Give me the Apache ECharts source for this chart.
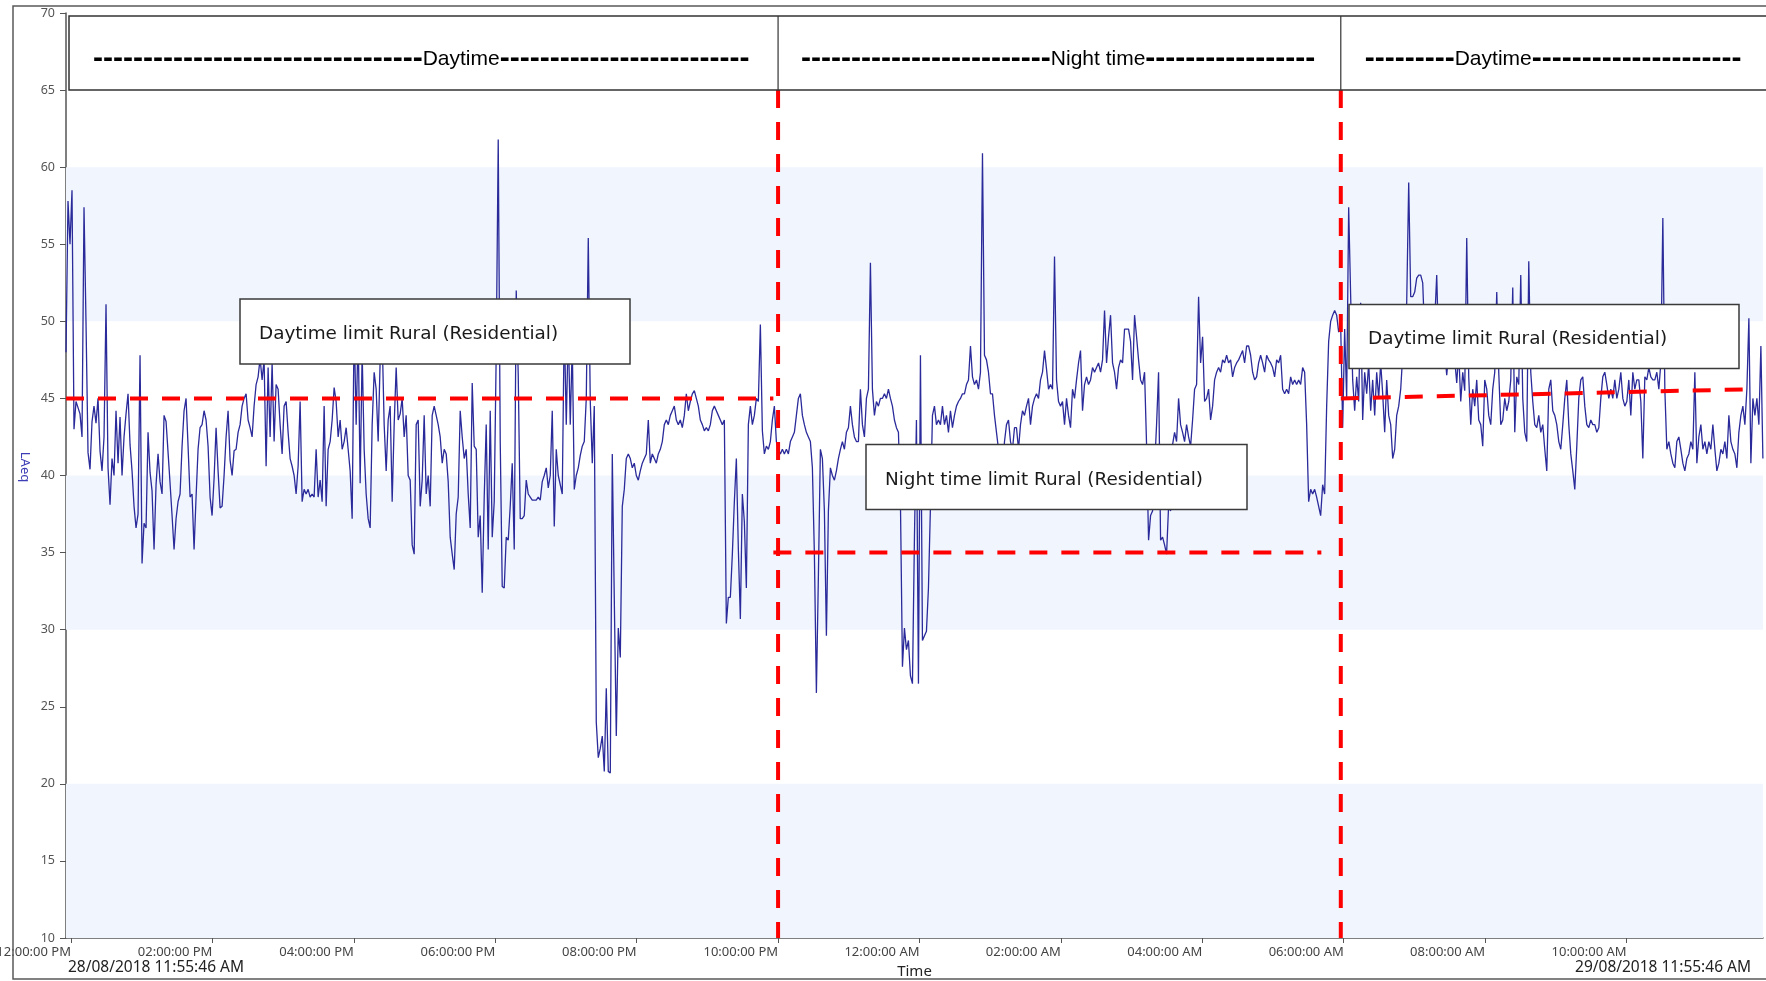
<!DOCTYPE html>
<html><head><meta charset="utf-8">
<script src="https://cdn.jsdelivr.net/npm/echarts@6/dist/echarts.min.js"></script>
<style>html,body{margin:0;padding:0;background:#fff;}#c{width:1766px;height:981px;}</style>
</head><body><div id="c"></div>
<script>
// ---------------- DATA ----------------
const startTime = '2018-08-28T11:55:46';
const endTime = '2018-08-29T11:55:46';
const logIntervalSec = 101.88;

const laeq = [
48.0,57.8,55.0,58.5,43.0,44.8,44.4,44.0,42.5,57.4,
49.9,41.5,40.4,43.5,44.5,43.4,45.0,41.6,40.3,42.5,
51.1,40.5,38.1,41.1,40.0,44.2,40.8,43.8,40.0,42.5,
44.0,45.3,42.0,40.3,38.0,36.6,37.5,47.8,34.3,36.9,
36.6,42.8,40.2,39.0,35.2,39.4,41.4,39.6,38.8,43.9,
43.5,41.5,39.5,37.4,35.2,37.2,38.3,38.8,41.9,44.2,
45.0,41.9,38.6,38.8,35.2,38.6,41.7,43.1,43.3,44.2,
43.6,41.9,38.6,37.4,39.8,43.1,40.3,37.9,38.0,40.0,
42.5,44.2,41.0,40.0,41.6,41.7,42.8,43.3,44.5,45.0,
45.3,43.6,43.1,42.5,44.5,45.9,46.4,47.6,46.2,47.5,
40.6,47.0,42.5,47.3,42.2,45.9,45.6,43.3,41.4,44.5,
44.8,42.8,41.1,40.6,40.0,38.8,40.6,44.8,38.3,39.1,
38.8,39.1,38.6,38.8,38.6,41.7,38.6,39.7,38.3,44.5,
38.0,41.7,42.2,43.6,45.7,44.8,42.5,43.6,41.7,42.2,
43.1,41.7,40.3,37.2,50.0,43.3,49.5,39.5,48.0,41.7,
38.8,37.2,36.6,43.3,46.7,45.6,42.2,47.5,49.0,43.3,
40.3,43.6,44.5,38.3,43.3,47.0,43.6,
44.0,45.0,42.5,43.9,40.0,39.7,35.5,34.9,43.3,43.6,
38.0,39.7,43.9,38.8,40.0,38.0,43.9,44.5,43.9,43.3,
42.5,40.8,41.7,41.4,39.6,36.0,34.9,33.9,37.5,38.6,
44.2,42.5,41.1,41.7,38.8,36.6,46.0,41.9,41.7,36.0,
37.4,32.4,38.6,43.3,35.2,44.2,36.0,38.3,48.0,61.8,
42.2,32.8,32.7,36.0,35.8,38.0,40.8,35.2,52.0,46.5,
37.2,37.2,37.4,39.7,38.8,38.6,38.4,38.4,38.4,38.6,
38.4,39.6,40.0,40.5,39.2,40.0,44.2,36.7,41.7,40.0,
39.4,38.8,50.0,43.3,49.5,43.3,48.5,39.1,40.0,40.5,
41.3,41.9,42.2,45.0,55.4,44.8,40.8,44.5,24.0,21.7,
22.3,23.1,20.8,26.2,20.8,20.7,41.4,32.0,23.1,30.1,
28.2,38.0,39.1,41.1,41.4,41.1,40.5,40.8,40.0,39.7,
40.3,40.8,41.1,41.4,43.6,40.8,41.4,41.1,40.8,41.4,
41.7,42.2,43.3,43.6,43.3,43.9,44.2,44.5,43.6,43.3,
43.6,43.1,43.9,45.3,44.2,44.8,45.3,45.5,45.0,44.5,
43.6,43.3,42.9,43.1,42.9,43.3,44.2,44.5,44.2,43.9,
43.6,43.3,43.6,30.4,32.1,32.1,34.9,38.3,41.1,35.2,
30.7,38.8,37.0,32.7,43.3,44.5,43.3,43.9,45.0,44.8,
49.8,42.9,41.4,41.9,41.7,42.2,43.6,44.5,42.2,41.7,
41.4,41.7,41.4,41.7,41.4,42.2,42.5,42.8,43.9,45.0,
45.3,43.9,43.3,42.8,42.5,42.2,40.5,34.9,25.9,33.5,
41.7,41.1,37.7,29.6,37.7,40.5,40.0,39.7,40.3,41.1,
41.7,42.2,41.7,42.8,43.1,44.5,43.3,42.5,42.2,42.2,
45.6,43.3,42.5,45.0,45.6,53.8,45.6,43.9,44.8,44.5,
45.0,45.0,45.3,45.0,45.6,45.0,44.5,43.6,43.1,42.8,
38.3,27.6,30.1,28.7,29.3,27.0,26.5,36.0,43.6,26.5,
47.8,29.3,29.6,29.9,32.7,38.0,43.9,44.5,43.3,43.6,
43.3,44.5,43.3,43.9,42.8,44.2,43.1,43.9,44.5,44.8,
45.0,45.3,45.3,45.9,46.2,48.4,46.4,45.9,46.2,45.6,
46.7,60.9,47.8,47.5,46.7,45.3,45.3,43.9,42.8,41.7,
41.9,40.5,42.2,43.3,43.6,42.2,41.7,43.1,43.1,41.7,
43.3,44.2,43.9,44.5,45.0,43.3,44.5,45.0,45.3,45.0,
46.2,46.7,48.1,46.9,45.6,45.9,45.6,54.2,46.2,44.8,
44.5,44.8,43.3,45.0,43.9,43.1,45.6,45.0,46.2,47.3,
48.1,44.2,45.9,46.4,45.9,46.2,47.0,46.7,47.0,47.3,
46.7,47.5,50.7,47.3,49.0,50.4,47.3,46.7,45.6,47.0,
47.5,47.3,49.5,49.5,49.5,48.7,46.2,50.4,49.0,47.5,
46.2,45.9,46.7,42.0,35.8,37.4,37.7,40.5,43.3,46.7,
35.8,36.0,35.5,34.9,38.0,37.7,42.0,42.8,42.2,45.0,
43.3,42.8,42.2,43.3,42.5,41.9,43.6,45.6,45.9,51.6,
47.3,49.0,44.8,45.0,45.6,43.6,44.5,46.2,46.7,47.0,
46.7,47.5,47.3,47.8,47.3,47.5,46.4,47.0,47.3,47.5,
47.8,48.1,47.3,48.4,48.4,47.8,46.7,46.2,46.4,47.3,
47.8,47.3,46.7,47.8,47.5,47.3,47.0,46.4,47.5,47.3,
47.8,45.6,45.3,45.6,45.3,46.4,45.9,46.2,45.9,46.2,
45.9,47.0,46.7,43.3,38.3,39.1,38.8,39.1,38.6,38.0,
37.4,39.4,38.8,44.5,48.7,50.0,50.4,50.7,50.4,49.3,
49.8,43.1,49.5,45.0,57.4,51.6,46.2,44.2,46.4,44.8,
51.2,43.6,46.7,45.3,47.3,44.2,46.2,43.9,46.7,45.0,
47.3,45.3,42.8,46.2,43.9,43.3,41.1,41.7,43.9,44.5,
45.6,47.8,49.8,51.2,59.0,51.6,51.6,51.9,52.8,53.0,
53.0,52.5,49.0,50.5,47.5,48.5,47.0,50.0,53.0,48.0,
47.5,49.0,48.0,46.5,48.0,47.0,49.0,47.5,46.0,48.0,
44.8,46.7,45.5,55.4,46.4,43.3,45.6,44.5,46.2,43.6,
43.3,41.9,46.2,45.6,43.9,43.3,45.6,46.7,51.9,46.7,
43.3,43.6,45.0,44.2,44.8,46.2,52.2,42.8,46.4,45.9,
53.0,45.0,42.8,42.2,53.9,46.7,44.8,43.3,43.1,43.9,
42.8,43.3,41.7,40.3,45.6,46.2,44.2,43.9,43.3,42.2,
41.7,43.3,45.0,46.2,43.3,41.4,40.3,39.1,41.9,45.0,
46.2,46.4,44.5,43.3,43.1,43.6,43.3,43.3,42.8,43.1,
45.0,46.4,46.7,45.9,45.0,45.6,45.0,46.2,45.0,45.6,
46.7,45.0,44.5,44.8,46.2,43.9,46.7,45.6,46.2,46.2,
44.8,41.1,46.4,46.2,47.0,46.4,46.2,46.2,46.7,45.6,
47.3,56.7,45.6,41.7,42.2,41.4,40.8,40.5,42.2,42.5,
41.7,40.8,40.3,41.1,41.4,42.2,41.7,46.7,40.8,42.5,
43.3,41.7,42.2,41.4,42.2,41.7,43.3,41.7,40.3,40.8,
41.7,41.4,42.2,41.1,43.9,42.2,41.7,41.4,40.5,42.8,
43.9,44.5,43.3,45.6,50.2,40.8,45.0,43.9,45.0,43.3,
48.4,41.1
];

const xTickTimes = [
'2018-08-28T12:00:00','2018-08-28T14:00:00','2018-08-28T16:00:00','2018-08-28T18:00:00',
'2018-08-28T20:00:00','2018-08-28T22:00:00','2018-08-29T00:00:00','2018-08-29T02:00:00',
'2018-08-29T04:00:00','2018-08-29T06:00:00','2018-08-29T08:00:00','2018-08-29T10:00:00'
];
const yMin = 10, yMax = 70, yStep = 5;
const bandRanges = [[10, 20], [30, 40], [50, 60]];

const periodBounds = ['2018-08-28T22:00:00', '2018-08-29T05:57:30'];
const periodNames = ['Daytime', 'Night time', 'Daytime'];
const periodDashes = [[33, 25], [25, 17], [9, 21]];
const periodTop = 70, periodBottom = 65;

const dayLimit1 = [['2018-08-28T11:55:46', 45.0], ['2018-08-28T21:56:00', 45.0]];
const nightLimit = [['2018-08-28T21:56:00', 35.0], ['2018-08-29T05:41:00', 35.0]];
const dayLimit2 = [['2018-08-29T05:57:30', 45.0], ['2018-08-29T11:49:00', 45.6]];

const limitLabels = ['Daytime limit Rural (Residential)', 'Night time limit Rural (Residential)', 'Daytime limit Rural (Residential)'];
const startLabel = '28/08/2018 11:55:46 AM';
const endLabel = '29/08/2018 11:55:46 AM';
const xName = 'Time';
const yName = 'LAeq';

// ---------------- HELPERS ----------------
function toMs(s) {
  const [d, t] = s.split('T');
  const [Y, M, D] = d.split('-').map(Number);
  const [h, m, sec] = t.split(':').map(Number);
  return Date.UTC(Y, M - 1, D, h, m, sec);
}
function pad(n) { return (n < 10 ? '0' : '') + n; }
function fmtTime(ms) {
  const d = new Date(ms);
  let h = d.getUTCHours();
  const ap = h >= 12 ? 'PM' : 'AM';
  h = h % 12; if (h === 0) h = 12;
  return pad(h) + ':' + pad(d.getUTCMinutes()) + ':' + pad(d.getUTCSeconds()) + ' ' + ap;
}

const t0 = toMs(startTime), t1 = toMs(endTime);
const lineData = laeq.map((v, i) => [t0 + i * logIntervalSec * 1000, v]);
const tickMs = xTickTimes.map(toMs);
const conv = arr => arr.map(p => [toMs(p[0]), p[1]]);
const boundMs = periodBounds.map(toMs);

const RED = '#ff0000';
const redStyle = { color: RED, width: 4, type: [18, 14] };

const chart = echarts.init(document.getElementById('c'), null, { renderer: 'canvas' });

const option = {
  animation: false,
  backgroundColor: '#ffffff',
  grid: { left: 66, right: 3, top: 13, bottom: 43, containLabel: false, outerBoundsMode: 'none' },
  xAxis: {
    type: 'value', min: t0, max: t1,
    name: xName, nameLocation: 'middle', nameGap: 21,
    nameTextStyle: { fontFamily: 'Noto Sans', fontSize: 15, color: '#222' },
    axisLine: { show: true, onZero: false, lineStyle: { color: '#555', width: 1.5 } },
    axisTick: { show: true, length: 5, lineStyle: { color: '#555' }, customValues: tickMs },
    axisLabel: { customValues: tickMs, formatter: fmtTime, align: 'right', fontSize: 13,
      color: '#444', margin: 8, fontFamily: 'Noto Sans', hideOverlap: false },
    splitLine: { show: false }
  },
  yAxis: {
    type: 'value', min: yMin, max: yMax, interval: yStep,
    axisLine: { show: true, lineStyle: { color: '#555', width: 1.5 } },
    axisTick: { show: true, length: 6, lineStyle: { color: '#555' } },
    axisLabel: { fontSize: 12.5, color: '#555', margin: 11, fontFamily: 'Noto Sans' },
    splitLine: { show: false }
  },
  series: [
    {
      type: 'line', data: [], z: 1, silent: true,
      markArea: { silent: true, itemStyle: { color: '#f1f6fe' },
        data: bandRanges.map(r => [{ yAxis: r[0] }, { yAxis: r[1] }]) }
    },
    {
      type: 'line', data: lineData, z: 3, showSymbol: false, symbol: 'none',
      lineStyle: { color: '#2a2a9a', width: 1.3 }
    },
    { type: 'line', data: conv(dayLimit1), z: 4, symbol: 'none', lineStyle: redStyle },
    { type: 'line', data: conv(nightLimit), z: 4, symbol: 'none', lineStyle: redStyle },
    { type: 'line', data: conv(dayLimit2), z: 4, symbol: 'none', lineStyle: redStyle },
    ...boundMs.map(b => ({ type: 'line', data: [[b, periodBottom], [b, yMin]], z: 4,
      symbol: 'none', lineStyle: redStyle }))
  ]
};
chart.setOption(option);

// ---------------- DECORATIONS ----------------
const P = (t, v) => chart.convertToPixel({ gridIndex: 0 }, [t, v]);
const xa = P(t0, yMax)[0];
const yTop = P(t0, periodTop)[1] + 3;
const yBot = P(t0, periodBottom)[1];
const xDiv = boundMs.map(b => P(b, periodBottom)[0]);
const segStarts = [xa + 27, xDiv[0] + 23, xDiv[1] + 24];
const textY = yTop + (yBot - yTop) / 2 + 6;

const dashStyle = { fontFamily: 'Liberation Sans', fontWeight: 'bold', fontSize: 30, fill: '#000' };
const wordStyle = { fontFamily: 'Liberation Sans', fontSize: 21, fill: '#000' };

const graphics = [];
graphics.push({ type: 'rect', z: 40, shape: { x: 13, y: 6, width: 1800, height: 973 },
  style: { fill: 'none', stroke: '#5a5a5a', lineWidth: 1.5 } });
graphics.push({ type: 'rect', z: 40, shape: { x: xa + 3, y: yTop, width: 1900, height: yBot - yTop },
  style: { fill: '#fff', stroke: '#333', lineWidth: 1.5 } });
xDiv.forEach(x => graphics.push({ type: 'line', z: 41,
  shape: { x1: x, y1: yTop, x2: x, y2: yBot }, style: { stroke: '#333', lineWidth: 1.2 } }));
periodNames.forEach((nm, k) => {
  const [a, b] = periodDashes[k];
  graphics.push({ type: 'text', z: 42, x: segStarts[k], y: textY,
    style: { text: '{d|' + '-'.repeat(a) + '}{w|' + nm + '}{d|' + '-'.repeat(b) + '}',
      rich: { d: dashStyle, w: wordStyle }, align: 'left', verticalAlign: 'middle' } });
});

const boxes = [
  { x: 240, y: 299, w: 390, h: 65 },
  { x: 866, y: 444.5, w: 381, h: 65 },
  { x: 1349, y: 304.5, w: 390, h: 64 }
];
boxes.forEach((b, k) => {
  graphics.push({ type: 'rect', z: 45, shape: { x: b.x, y: b.y, width: b.w, height: b.h },
    style: { fill: '#fff', stroke: '#3a3a3a', lineWidth: 1.5 } });
  graphics.push({ type: 'text', z: 46, x: b.x + 19, y: b.y + b.h / 2 + 3,
    style: { text: limitLabels[k], fontFamily: 'DejaVu Sans', fontSize: 18.4, fill: '#1a1a1a',
      align: 'left', verticalAlign: 'middle' } });
});

graphics.push({ type: 'text', z: 46, x: 25, y: 467, rotation: -Math.PI / 2,
  style: { text: yName, fontFamily: 'Noto Sans', fontSize: 13, fill: '#3d3db5', align: 'center', verticalAlign: 'middle' } });
graphics.push({ type: 'text', z: 46, x: xa + 2, y: 968,
  style: { text: startLabel, fontFamily: 'Noto Sans', fontSize: 15.5, fill: '#222', align: 'left', verticalAlign: 'middle' } });
graphics.push({ type: 'text', z: 46, x: 1751, y: 968,
  style: { text: endLabel, fontFamily: 'Noto Sans', fontSize: 15.5, fill: '#222', align: 'right', verticalAlign: 'middle' } });

chart.setOption({ graphic: graphics });
</script>
</body></html>
